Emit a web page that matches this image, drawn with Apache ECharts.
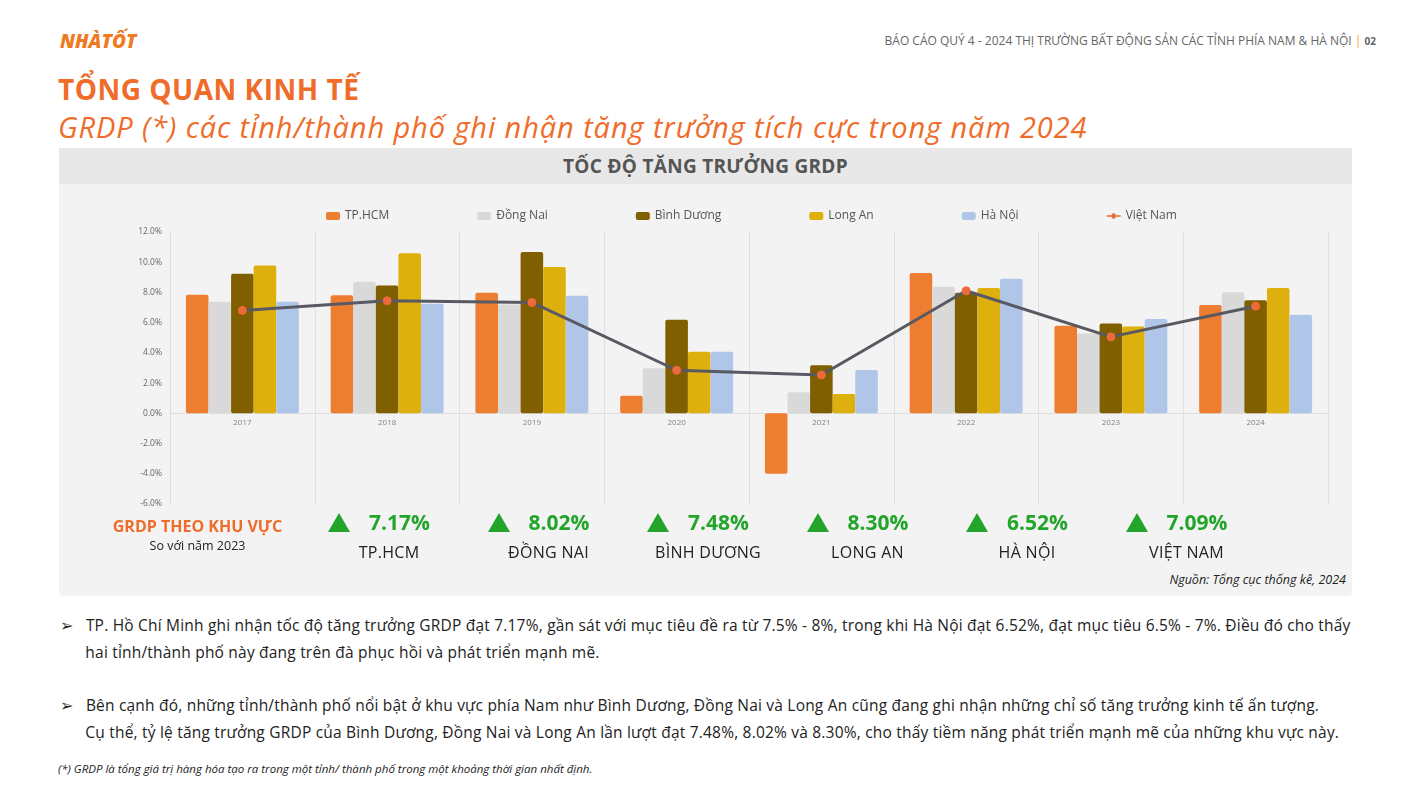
<!DOCTYPE html>
<html>
<head>
<meta charset="utf-8">
<script src="https://cdn.jsdelivr.net/npm/echarts@6/dist/echarts.min.js"></script>
<style>
  body { margin: 0; width: 1422px; height: 800px; background: #fff; font-family: "Open Sans", Lato, sans-serif; position: relative; overflow: hidden; }
  .abs { position: absolute; }
  #panel { left: 59px; top: 148px; width: 1293px; height: 448px; background: #f3f3f3; border-radius: 4px; }
  #panelHead { left: 59px; top: 148px; width: 1293px; height: 36px; background: #e8e8e8; text-align: center; line-height: 36px; font-size: 19px; font-weight: bold; color: #555; letter-spacing: 0.3px; }
  #chart { left: 59px; top: 184px; width: 1293px; height: 340px; }
  .kv { color: #22a52a; font-weight: bold; font-size: 21px; }
  .tri { width: 0; height: 0; border-left: 11px solid transparent; border-right: 11px solid transparent; border-bottom: 19px solid #22a52a; }
  .kn { font-size: 16px; color: #222; text-align: center; width: 160px; letter-spacing: 0.3px; }
  .bullet { left: 60px; font-size: 15.5px; color: #222; line-height: 27px; width: 1320px; letter-spacing: 0.2px; }
</style>
</head>
<body>
<div class="abs" style="left:60px;top:28px;font-size:19px;font-weight:900;font-style:italic;color:#f07a22;">NHÀTỐT</div>
<div class="abs" style="right:46px;top:32px;font-size:12px;color:#666;">BÁO CÁO QUÝ 4 - 2024 THỊ TRƯỜNG BẤT ĐỘNG SẢN CÁC TỈNH PHÍA NAM &amp; HÀ NỘI <span style="color:#f0a020">|</span> <b style="font-size:10px">02</b></div>
<div class="abs" style="left:58px;top:70px;font-size:28px;font-weight:bold;color:#ef6c2a;letter-spacing:0.5px;">TỔNG QUAN KINH TẾ</div>
<div class="abs" style="left:58px;top:107px;font-size:29px;font-style:italic;color:#ef6c2a;letter-spacing:0.9px;">GRDP (*) các tỉnh/thành phố ghi nhận tăng trưởng tích cực trong năm 2024</div>
<div class="abs" id="panel"></div>
<div class="abs" id="panelHead">TỐC ĐỘ TĂNG TRƯỞNG GRDP</div>
<div class="abs" id="chart"></div>
<div class="abs" style="left:90px;top:515px;width:215px;text-align:center;">
  <div style="font-size:16px;font-weight:bold;color:#ef6c2a;">GRDP THEO KHU VỰC</div>
  <div style="font-size:12.5px;color:#222;">So với năm 2023</div>
</div>
<div id="kpis"></div>
<div class="abs" style="right:76px;top:571px;font-size:12.5px;font-style:italic;color:#222;">Nguồn: Tổng cục thống kê, 2024</div>
<div class="abs bullet" style="top:612px;">➢&nbsp;&nbsp;&nbsp;TP. Hồ Chí Minh ghi nhận tốc độ tăng trưởng GRDP đạt 7.17%, gần sát với mục tiêu đề ra từ 7.5% - 8%, trong khi Hà Nội đạt 6.52%, đạt mục tiêu 6.5% - 7%. Điều đó cho thấy<br>&nbsp;&nbsp;&nbsp;&nbsp;&nbsp;&nbsp;hai tỉnh/thành phố này đang trên đà phục hồi và phát triển mạnh mẽ.</div>
<div class="abs bullet" style="top:692px;">➢&nbsp;&nbsp;&nbsp;Bên cạnh đó, những tỉnh/thành phố nổi bật ở khu vực phía Nam như Bình Dương, Đồng Nai và Long An cũng đang ghi nhận những chỉ số tăng trưởng kinh tế ấn tượng.<br>&nbsp;&nbsp;&nbsp;&nbsp;&nbsp;&nbsp;Cụ thể, tỷ lệ tăng trưởng GRDP của Bình Dương, Đồng Nai và Long An lần lượt đạt 7.48%, 8.02% và 8.30%, cho thấy tiềm năng phát triển mạnh mẽ của những khu vực này.</div>
<div class="abs" style="left:58px;top:761px;font-size:11.5px;font-style:italic;color:#222;">(*) GRDP là tổng giá trị hàng hóa tạo ra trong một tỉnh/ thành phố trong một khoảng thời gian nhất định.</div>
<script>
const years = ["2017", "2018", "2019", "2020", "2021", "2022", "2023", "2024"];
const hcm = [7.85, 7.82, 7.98, 1.17, -4.0, 9.28, 5.79, 7.17];
const dongNai = [7.38, 8.70, 7.20, 2.98, 1.39, 8.38, 5.28, 8.02];
const binhDuong = [9.24, 8.46, 10.67, 6.19, 3.18, 7.98, 5.94, 7.48];
const longAn = [9.79, 10.60, 9.68, 4.07, 1.28, 8.29, 5.75, 8.30];
const haNoi = [7.38, 7.25, 7.78, 4.07, 2.87, 8.90, 6.25, 6.52];
const vietNam = [6.81, 7.45, 7.34, 2.85, 2.54, 8.11, 5.06, 7.09];
const kpiNames = ["TP.HCM", "ĐỒNG NAI", "BÌNH DƯƠNG", "LONG AN", "HÀ NỘI", "VIỆT NAM"];
const kpiValues = ["7.17%", "8.02%", "7.48%", "8.30%", "6.52%", "7.09%"];

// KPI row
let html = "";
kpiNames.forEach((n, i) => {
  const x = 328 + i * 159.5;
  html += `<div class="abs tri" style="left:${x}px;top:513px"></div>`;
  html += `<div class="abs kv" style="left:${x + 41}px;top:508px">${kpiValues[i]}</div>`;
  html += `<div class="abs kn" style="left:${x - 19}px;top:541px">${n}</div>`;
});
document.getElementById("kpis").innerHTML = html;

const chart = echarts.init(document.getElementById("chart"));
const bar = (name, data, color) => ({
  name, type: "bar", data, barGap: "0%",
  itemStyle: { color, borderRadius: 2 }
});
chart.setOption({
  textStyle: { fontFamily: "Open Sans, Lato, sans-serif" },
  legend: {
    top: 21, left: 262, itemGap: 88, itemWidth: 14, itemHeight: 8,
    textStyle: { color: "#555", fontSize: 12 },
    data: ["TP.HCM", "Đồng Nai", "Bình Dương", "Long An", "Hà Nội",
      { name: "Việt Nam", icon: "path://M0,4 L7,4 A3,3 0 0,1 13,4 L20,4 L20,6 L13,6 A3,3 0 0,1 7,6 L0,6 Z" }]
  },
  grid: { left: 111, right: 24, top: 48, bottom: 20 },
  xAxis: {
    type: "category", data: years,
    axisLine: { onZero: true, lineStyle: { color: "#ddd" } },
    axisTick: { show: false },
    axisLabel: { show: false },
    splitLine: { show: true, lineStyle: { color: "#e0e0e0" } }
  },
  yAxis: {
    type: "value", min: -6, max: 12, interval: 2,
    axisLine: { show: true, lineStyle: { color: "#ddd" } },
    axisLabel: { color: "#666", fontSize: 8.5, formatter: v => v.toFixed(1) + "%" },
    splitLine: { show: false }
  },
  series: [
    Object.assign(bar("TP.HCM", hcm, "#ed7d31"), { barCategoryGap: "22%" }),
    bar("Đồng Nai", dongNai, "#d9d9d9"),
    bar("Bình Dương", binhDuong, "#7f5f00"),
    bar("Long An", longAn, "#deb00d"),
    bar("Hà Nội", haNoi, "#b0c6e8"),
    {
      name: "Việt Nam", type: "line", data: vietNam, symbol: "circle", symbolSize: 8,
      lineStyle: { color: "#595963", width: 3 },
      itemStyle: { color: "#ed6a3a", borderColor: "#ed6a3a" }, z: 5
    },
    {
      // year labels sitting on the zero line
      name: "labels", type: "scatter", data: years.map(() => 0), symbolSize: 0,
      silent: true, z: 1,
      label: { show: true, position: "bottom", distance: 5, formatter: p => years[p.dataIndex], color: "#666", fontSize: 8 }
    }
  ]
});
</script>
</body>
</html>
